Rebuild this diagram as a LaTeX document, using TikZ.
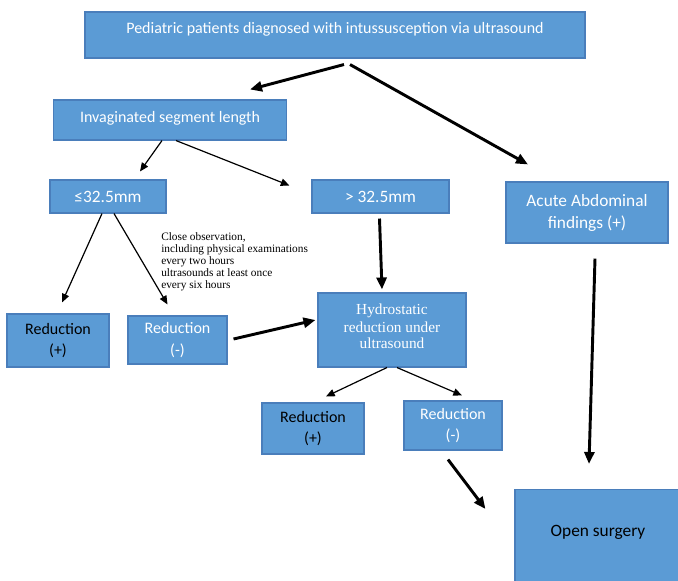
\documentclass[tikz,border=0pt]{standalone}
\usepackage{fontspec}
\setmainfont{Liberation Serif}
\newfontfamily\calibri{Carlito}
\usetikzlibrary{arrows.meta,calc}
\definecolor{boxblue}{HTML}{5B9BD5}
\definecolor{boxedge}{HTML}{4A7EBB}

\begin{document}
\begin{tikzpicture}[x=0.75pt,y=-0.75pt,
	box/.style={draw=boxedge,fill=boxblue,line width=0.8pt,text=white,align=center,inner sep=0pt,font=\calibri\fontsize{12}{16}\selectfont},
	darktext/.style={text=black},
	thickarrow/.style={line width=2.2pt,-{Triangle[length=9pt,width=7.5pt]}},
	thinarrow/.style={line width=0.9pt,-{Triangle[length=6.5pt,width=5.5pt]}}]
	\useasboundingbox (0,0) rectangle (678,581);
	\clip (0,0) rectangle (678,581);
	% boxes
	\node[box,minimum width=375pt,minimum height=34.5pt,font=\calibri\fontsize{12}{14}\selectfont] (patients) at (335,35) {\raisebox{4.5pt}[\height][\depth]{Pediatric patients diagnosed with intussusception via ultrasound}};
	\node[box,minimum width=174.75pt,minimum height=30pt] (invag) at (170,120) {\raisebox{1.5pt}[\height][\depth]{Invaginated segment length}};
	\node[box,minimum width=87pt,minimum height=24.75pt,font=\calibri\fontsize{13}{16}\selectfont] (short) at (108,196.5) {≤32.5mm};
	\node[box,minimum width=102.75pt,minimum height=24.75pt,font=\calibri\fontsize{13}{16}\selectfont] (long) at (380.5,196.5) {> 32.5mm};
	\node[box,minimum width=121.5pt,minimum height=45.75pt,font=\calibri\fontsize{13}{16.5}\selectfont] (acute) at (587,212.5) {Acute Abdominal\\findings (+)};
	\node[box,darktext,minimum width=76.5pt,minimum height=39.75pt] (redplus) at (58,340.5) {Reduction\\(+)};
	\node[box,minimum width=74.25pt,minimum height=36pt] (redminus) at (177.5,340) {Reduction\\(-)};
	\node[box,minimum width=111pt,minimum height=55.5pt,font=\fontsize{11.5}{12.4}\selectfont] (hydro) at (392,330) {\raisebox{3pt}[\height][\depth]{\shortstack{Hydrostatic\\[0.6pt]reduction under\\[0.6pt]ultrasound}}};
	\node[box,darktext,minimum width=76.5pt,minimum height=38.25pt] (hydroplus) at (313,428.5) {Reduction\\(+)};
	\node[box,minimum width=73.5pt,minimum height=36.75pt] (hydrominus) at (453,425.5) {Reduction\\(-)};
	\node[box,darktext,minimum width=124.5pt,minimum height=71.25pt,font=\calibri\fontsize{13}{16}\selectfont] (surgery) at (598,537) {\raisebox{3.75pt}[\height][\depth]{Open surgery}};
	% note
	\node[anchor=north west,align=left,inner sep=0pt,font=\fontsize{8.5}{9.1}\selectfont] (watch) at (161,232) {Close observation,\\including physical examinations\\every two hours\\ultrasounds at least once\\every six hours};
	% arrows
	\draw[thickarrow] ($(patients.south)+(9,6)$) -- ($(invag.north)+(80,-10)$);
	\draw[thickarrow] ($(patients.south)+(15,6)$) -- ($(acute.north)+(-59,-17)$);
	\draw[thinarrow] ($(invag.south)+(-8,0)$) -- ($(short.north)+(32,-8)$);
	\draw[thinarrow] ($(invag.south)+(6,0)$) -- ($(long.west)+(-22,-11)$);
	\draw[thinarrow] ($(short.south)+(-6,0)$) -- ($(redplus.north)+(4,-11)$);
	\draw[thinarrow] ($(short.south)+(6,0)$) -- ($(redminus.north)+(-10,-11)$);
	\draw[thickarrow] ($(long.south)+(-1,5)$) -- ($(hydro.north)+(-10,-3)$);
	\draw[thickarrow] ($(redminus.east)+(6,-1)$) -- ($(hydro.west)+(-2,-10)$);
	\draw[thinarrow] ($(hydro.south)+(-5,0)$) -- ($(hydroplus.north)+(13,-6)$);
	\draw[thinarrow] ($(hydro.south)+(5,0)$) -- ($(hydrominus.north)+(9,-5)$);
	\draw[thickarrow] ($(acute.south)+(8,15)$) -- ($(surgery.north)+(-9,-25)$);
	\draw[thickarrow] ($(hydrominus.south)+(-5,9)$) -- ($(surgery.west)+(-29,-28)$);
\end{tikzpicture}
\end{document}
